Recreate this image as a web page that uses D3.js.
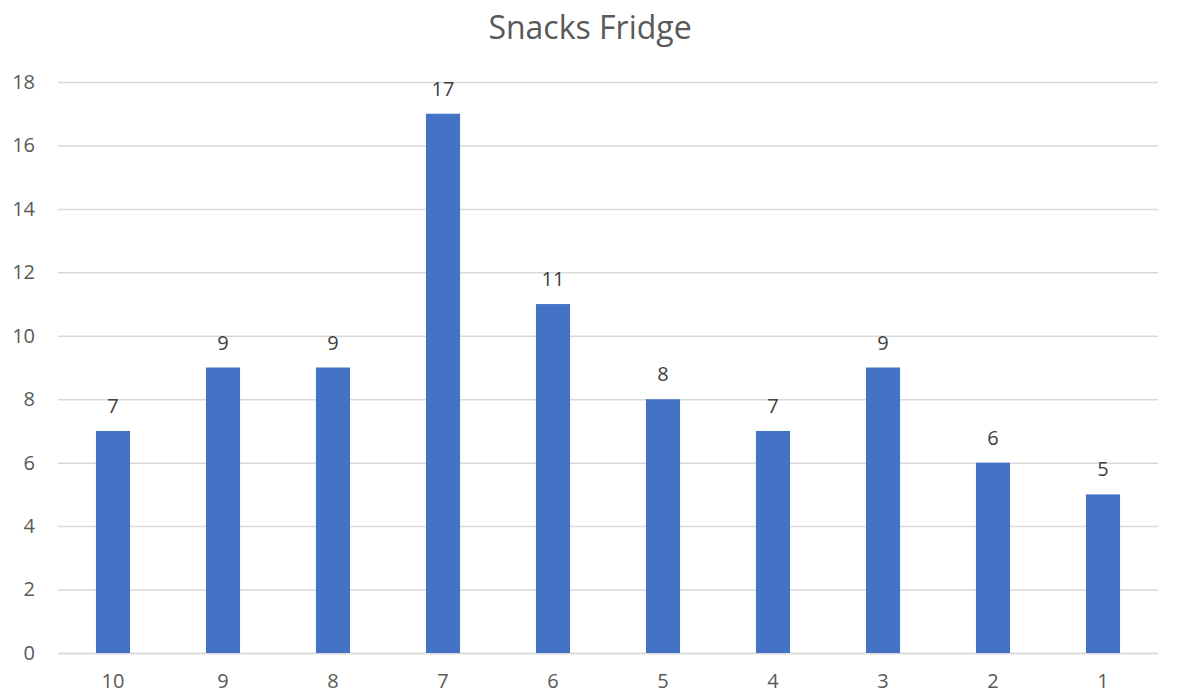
<!DOCTYPE html>
<html>
<head>
<meta charset="utf-8">
<script src="https://cdn.jsdelivr.net/npm/d3@7"></script>
<style>
  html, body { margin: 0; padding: 0; background: #fff; }
  svg { display: block; font-family: "Open Sans", "Liberation Sans", sans-serif; }
</style>
</head>
<body>
<svg id="chart" width="1190" height="698"></svg>
<script>
// Snack counts per fridge slot, listed in display order
const categories = ["10", "9", "8", "7", "6", "5", "4", "3", "2", "1"];
const values = [7, 9, 9, 17, 11, 8, 7, 9, 6, 5];
const yTicks = [0, 2, 4, 6, 8, 10, 12, 14, 16, 18];
const title = "Snacks Fridge";

const svg = d3.select("#chart");
const margin = { left: 58, right: 32, top: 82, bottom: 45 };
const W = 1190, H = 698;
const labelFont = "'Open Sans', 'Liberation Sans', sans-serif";

const x = d3.scaleBand()
  .domain(categories)
  .range([margin.left, W - margin.right])
  .paddingInner(0.69)
  .paddingOuter(0.345);

const y = d3.scaleLinear()
  .domain([0, 18])
  .range([H - margin.bottom, margin.top]);

// Title
svg.append("text")
  .attr("x", 590)
  .attr("y", 39)
  .attr("text-anchor", "middle")
  .attr("fill", "#595959")
  .style("font-size", "32px")
  .text(title);

// Horizontal gridlines
const yAxis = d3.axisLeft(y)
  .tickValues(yTicks)
  .tickSize(-(W - margin.left - margin.right))
  .tickPadding(23);

const gy = svg.append("g")
  .attr("transform", `translate(${margin.left},0)`)
  .call(yAxis);
gy.select(".domain").remove();
gy.selectAll(".tick line").attr("stroke", "#d9d9d9").attr("stroke-width", 1.5);
gy.selectAll(".tick text")
  .attr("fill", "#595959")
  .style("font-size", "20px")
  .style("font-family", labelFont);

// Category axis
const xAxis = d3.axisBottom(x).tickSize(0).tickPadding(21);
const gx = svg.append("g")
  .attr("transform", `translate(0,${H - margin.bottom})`)
  .call(xAxis);
gx.select(".domain").attr("stroke", "#d9d9d9").attr("stroke-width", 1.5);
gx.selectAll(".tick text")
  .attr("fill", "#595959")
  .style("font-size", "20px")
  .style("font-family", labelFont);

// Bars
const data = categories.map((c, i) => ({ c, v: values[i] }));
svg.append("g")
  .selectAll("rect")
  .data(data)
  .join("rect")
  .attr("x", d => x(d.c))
  .attr("width", x.bandwidth())
  .attr("y", d => y(d.v))
  .attr("height", d => y(0) - y(d.v))
  .attr("fill", "#4472c4");

// Value labels
svg.append("g")
  .selectAll("text")
  .data(data)
  .join("text")
  .attr("x", d => x(d.c) + x.bandwidth() / 2)
  .attr("y", d => y(d.v) - 18)
  .attr("text-anchor", "middle")
  .attr("fill", "#404040")
  .style("font-size", "20px")
  .text(d => d.v);
</script>
</body>
</html>
